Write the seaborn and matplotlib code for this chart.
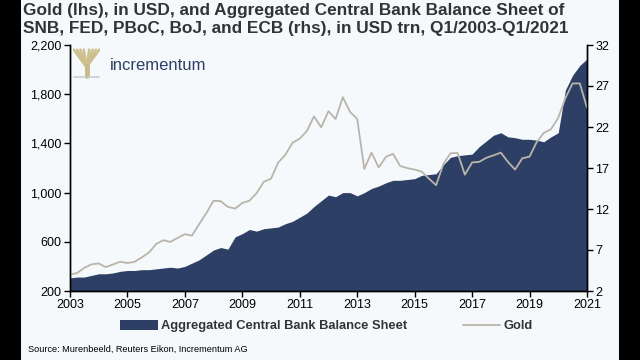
import numpy as np
import pandas as pd
import seaborn as sns
import matplotlib.pyplot as plt
import matplotlib.dates as mdates
from matplotlib.patches import Rectangle, Patch
from matplotlib.lines import Line2D

# quarterly data, Q1/2003 - Q1/2021
quarters = pd.date_range("2003-01-01", "2021-01-01", freq="QS")

gold_usd = [
    334, 346, 388, 417,
    424, 394, 416, 438,
    427, 437, 473, 513,
    582, 613, 599, 632,
    662, 650, 743, 834,
    934, 930, 884, 870,
    916, 934, 996, 1088,
    1113, 1244, 1307, 1405,
    1439, 1500, 1620, 1531,
    1662, 1598, 1776, 1657,
    1598, 1192, 1326, 1204,
    1291, 1315, 1216, 1199,
    1187, 1171, 1114, 1060,
    1232, 1320, 1322, 1146,
    1245, 1250, 1283, 1303,
    1325, 1250, 1187, 1279,
    1292, 1409, 1485, 1515,
    1608, 1768, 1887, 1888,
    1691,
]

balance_trn = [
    3.6, 3.7, 3.7, 3.9,
    4.1, 4.1, 4.2, 4.4,
    4.5, 4.5, 4.6, 4.6,
    4.7, 4.8, 4.9, 4.8,
    5.0, 5.4, 5.8, 6.4,
    7.0, 7.3, 7.1, 8.6,
    9.0, 9.5, 9.3, 9.6,
    9.7, 9.8, 10.2, 10.5,
    11.0, 11.5, 12.3, 13.0,
    13.7, 13.5, 14.0, 14.0,
    13.6, 14.0, 14.5, 14.8,
    15.2, 15.5, 15.5, 15.6,
    15.7, 16.1, 16.2, 16.3,
    17.4, 18.3, 18.5, 18.6,
    18.7, 19.6, 20.3, 21.0,
    21.3, 20.8, 20.7, 20.5,
    20.5, 20.4, 20.2, 20.8,
    21.3, 26.5, 28.3, 29.5,
    30.3,
]

tick_years = list(range(2003, 2022, 2))
gold_ticks = [200, 600, 1000, 1400, 1800, 2200]
balance_ticks = [2, 7, 12, 17, 22, 27, 32]

df = pd.DataFrame({"date": quarters, "gold": gold_usd, "balance": balance_trn})

navy = "#2e3f66"
gold_col = "#bab5aa"
bg = "#f6f9fc"
txt = "#333333"

sns.set_style("white")
plt.rcParams["font.family"] = ["Liberation Sans", "DejaVu Sans"]

fig = plt.figure(figsize=(6.4, 3.6), dpi=100, facecolor="black")
fig.patches.append(Rectangle((21 / 640, 0), 598 / 640, 1, transform=fig.transFigure,
                             facecolor=bg, edgecolor="none", zorder=-5))

ax = fig.add_axes([70 / 640, 69 / 360, 517 / 640, 246 / 360])
ax2 = ax.twinx()

# balance sheet area on the right axis
ax2.fill_between(df["date"], 2, df["balance"], color=navy, linewidth=0)
ax2.set_ylim(2, 32)
ax2.set_yticks(balance_ticks)

# gold on the left axis, drawn in front
sns.lineplot(data=df, x="date", y="gold", ax=ax, color=gold_col, linewidth=1.3)
ax.set_ylim(200, 2200)
ax.set_yticks(gold_ticks)
ax.yaxis.set_major_formatter(plt.FuncFormatter(lambda v, p: f"{int(v):,}"))
ax2.set_zorder(1)
ax.set_zorder(2)
ax.patch.set_visible(False)
ax2.patch.set_facecolor(bg)

ax.set_xlim(quarters[0], quarters[-1])
ax.set_xticks(pd.to_datetime([f"{y}-01-01" for y in tick_years]))
ax.xaxis.set_major_formatter(mdates.DateFormatter("%Y"))
ax.set_xlabel("")
ax.set_ylabel("")

for a in (ax, ax2):
    for s in a.spines.values():
        s.set_color("black")
        s.set_linewidth(1.0)
    a.spines["top"].set_visible(False)
    a.tick_params(length=4, width=1, color="black", labelsize=9, labelcolor="black", pad=2)
ax.tick_params(axis="x", direction="out", bottom=True)
ax.tick_params(axis="y", direction="out", left=True)
ax2.tick_params(axis="y", direction="out", right=True)

fig.text(23 / 640, 1 - 3 / 360,
         "Gold (lhs), in USD, and Aggregated Central Bank Balance Sheet of",
         fontsize=12.4, fontweight="bold", color=txt, va="top", ha="left")
fig.text(23 / 640, 1 - 21 / 360,
         "SNB, FED, PBoC, BoJ, and ECB (rhs), in USD trn, Q1/2003-Q1/2021",
         fontsize=12.4, fontweight="bold", color=txt, va="top", ha="left")

# logo
fig.text(110 / 640, 1 - 66 / 360, "incrementum", fontsize=12, color=navy,
         va="center", ha="left", zorder=5)
logo = fig.add_axes([73 / 640, 1 - 80 / 360, 27 / 640, 32 / 360])
logo.set_zorder(5)
logo.set_xlim(-1, 1)
logo.set_ylim(0, 1)
logo.axis("off")
for dx in [-0.95, -0.7, -0.45, -0.2, 0.2, 0.45, 0.7, 0.95]:
    logo.plot([0, dx], [0.4, 0.95], color="#cdbf8e", linewidth=1.8)
logo.plot([0, 0], [0.12, 0.45], color="#c9b98a", linewidth=3.5)
logo.plot([-0.95, -0.1], [0.08, 0.08], color="#c9ccd4", linewidth=1.2)
logo.plot([0.1, 0.95], [0.08, 0.08], color="#c9ccd4", linewidth=1.2)

handles = [Patch(facecolor=navy, edgecolor="none"),
           Line2D([], [], color=gold_col, linewidth=1.3)]
labels = ["Aggregated Central Bank Balance Sheet", "Gold"]
fig.legend(handles, labels, loc="center", bbox_to_anchor=(0.51, 1 - 326 / 360),
           ncol=2, frameon=False, handlelength=2.9, handleheight=0.9,
           columnspacing=4.3, handletextpad=0.25,
           prop={"weight": "bold", "size": 9.3}, labelcolor=txt)

fig.text(28 / 640, 1 - 349 / 360, "Source: Murenbeeld, Reuters Eikon, Incrementum AG",
         fontsize=6.6, color="black", va="center", ha="left")

fig.savefig("out.png", dpi=100, facecolor=fig.get_facecolor())
